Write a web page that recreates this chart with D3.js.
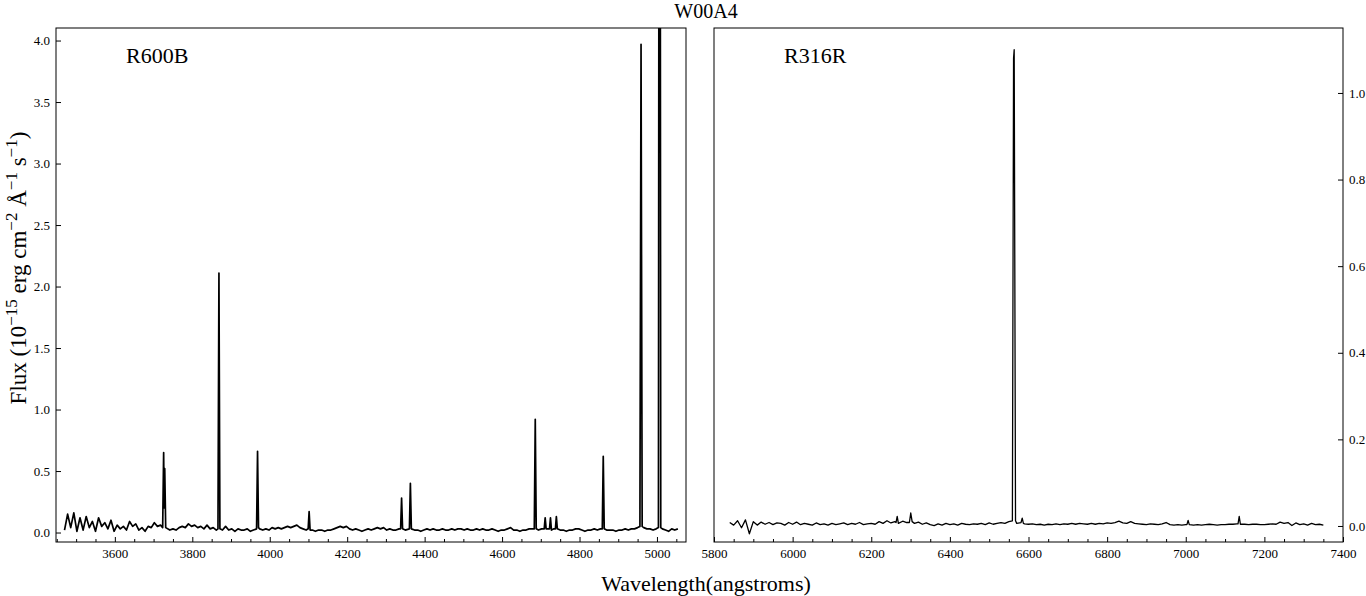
<!DOCTYPE html>
<html>
<head>
<meta charset="utf-8">
<script src="https://cdn.jsdelivr.net/npm/d3@7"></script>
<style>
body { margin: 0; background: #fff; }
svg { display: block; font-family: "Liberation Serif", "Times New Roman", serif; }
.axis text { font-size: 13px; fill: #000; font-family: "Liberation Serif", serif; }
.axis line { stroke: #000; stroke-width: 1; }
.axis .domain { display: none; }
</style>
</head>
<body>
<svg width="1366" height="596"></svg>
<script>
// ---- data ----
var title = "W00A4";
var panelNames = ["R600B", "R316R"];

// blue arm (R600B): continuum sampled every 8 A from 3470 A
var blueStart = 3470, blueStep = 8;
var blueFlux = [
  0.02, 0.15, 0.04, 0.16, 0.01, 0.12, 0.02, 0.13, 0.04, 0.09,
  0.01, 0.12, 0.05, 0.08, 0.03, 0.10, 0.01, 0.06, 0.03, 0.05,
  0.02, 0.09, 0.05, 0.07, 0.02, 0.04, 0.01, 0.05, 0.04, 0.08,
  0.05, 0.06, 0.04, 0.03, 0.02, 0.03, 0.02, 0.04, 0.05, 0.04,
  0.07, 0.05, 0.06, 0.04, 0.05, 0.03, 0.06, 0.03, 0.04, 0.02,
  0.03, 0.02, 0.05, 0.02, 0.03, 0.01, 0.03, 0.02, 0.02, 0.03,
  0.01, 0.02, 0.03, 0.03, 0.02, 0.03, 0.02, 0.04, 0.03, 0.04,
  0.03, 0.04, 0.05, 0.04, 0.05, 0.06, 0.04, 0.03, 0.02, 0.03,
  0.02, 0.01, 0.02, 0.02, 0.01, 0.02, 0.02, 0.03, 0.04, 0.05,
  0.04, 0.05, 0.03, 0.02, 0.03, 0.02, 0.01, 0.02, 0.03, 0.02,
  0.03, 0.04, 0.03, 0.04, 0.02, 0.03, 0.02, 0.02, 0.03, 0.03,
  0.02, 0.03, 0.03, 0.02, 0.02, 0.01, 0.02, 0.03, 0.02, 0.03,
  0.02, 0.02, 0.03, 0.02, 0.02, 0.03, 0.02, 0.03, 0.03, 0.02,
  0.03, 0.02, 0.02, 0.03, 0.02, 0.03, 0.02, 0.02, 0.03, 0.02,
  0.01, 0.02, 0.02, 0.03, 0.04, 0.02, 0.02, 0.01, 0.02, 0.02,
  0.03, 0.03, 0.03, 0.02, 0.03, 0.03, 0.03, 0.02, 0.03, 0.03,
  0.02, 0.02, 0.01, 0.02, 0.02, 0.03, 0.03, 0.02, 0.01, 0.02,
  0.02, 0.03, 0.02, 0.03, 0.03, 0.02, 0.02, 0.02, 0.01, 0.02,
  0.02, 0.03, 0.02, 0.03, 0.03, 0.04, 0.05, 0.04, 0.03, 0.03,
  0.02, 0.03, 0.04, 0.03, 0.02, 0.01, 0.03, 0.02, 0.03
];
// emission lines in the blue arm: [wavelength, flux]
var blueLines = [
  [3723.5, 0.04], [3726.0, 0.65], [3727.4, 0.20], [3728.8, 0.52], [3731.3, 0.04],
  [3866.3, 0.03], [3868.8, 2.11], [3871.3, 0.03],
  [3966.0, 0.03], [3968.5, 0.66], [3971.0, 0.04],
  [4099.2, 0.03], [4101.7, 0.17], [4104.2, 0.02],
  [4338.0, 0.03], [4340.5, 0.28], [4343.0, 0.03],
  [4360.7, 0.03], [4363.2, 0.40], [4365.7, 0.03],
  [4683.2, 0.03], [4685.7, 0.92], [4688.2, 0.03],
  [4708.8, 0.03], [4711.3, 0.12], [4713.8, 0.03],
  [4722.5, 0.03], [4725.0, 0.12], [4727.5, 0.02],
  [4737.7, 0.03], [4740.2, 0.13], [4742.7, 0.03],
  [4858.8, 0.03], [4861.3, 0.62], [4863.8, 0.03],
  [4956.0, 0.05], [4958.9, 3.97], [4961.8, 0.05],
  [5003.8, 0.04], [5006.8, 11.9], [5009.8, 0.04]
];

// red arm (R316R): continuum sampled every 10 A from 5840 A
var redStart = 5840, redStep = 10;
var redFlux = [
  0.008, 0.002, 0.012, -0.004, 0.014, -0.018, 0.010, 0.002, 0.009, 0.004,
  0.008, 0.003, 0.007, 0.006, 0.002, 0.008, 0.004, 0.009, 0.003, 0.006,
  0.004, 0.002, 0.007, 0.003, 0.005, 0.002, 0.006, 0.003, 0.005, 0.007,
  0.003, 0.006, 0.004, 0.008, 0.003, 0.005, 0.006, 0.004, 0.010, 0.006,
  0.012, 0.007, 0.010, 0.005, 0.011, 0.008, 0.010, 0.006, 0.009, 0.004,
  0.007, 0.003, 0.001, 0.005, 0.002, 0.006, 0.003, 0.005, 0.002, 0.006,
  0.004, 0.003, 0.005, 0.004, 0.006, 0.003, 0.007, 0.004, 0.006, 0.008,
  0.006, 0.010, 0.012, 0.006, 0.012, 0.005, 0.004, 0.005, 0.003, 0.004,
  0.002, 0.004, 0.003, 0.005, 0.003, 0.005, 0.004, 0.006, 0.004, 0.006,
  0.005, 0.004, 0.006, 0.004, 0.006, 0.005, 0.007, 0.006, 0.008, 0.011,
  0.007, 0.006, 0.010, 0.006, 0.005, 0.004, 0.003, 0.005, 0.004, 0.003,
  0.005, 0.008, 0.003, 0.002, 0.003, 0.002, 0.003, 0.003, 0.002, 0.003,
  0.002, 0.003, 0.004, 0.003, 0.002, 0.003, 0.003, 0.004, 0.004, 0.005,
  0.004, 0.004, 0.003, 0.004, 0.004, 0.003, 0.003, 0.004, 0.005, 0.004,
  0.009, 0.006, 0.008, 0.001, 0.007, 0.003, 0.005, 0.002, 0.006, 0.003,
  0.004, 0.002
];
var redLines = [
  [6263.0, 0.008], [6266.0, 0.022], [6269.0, 0.006],
  [6297.0, 0.008], [6300.5, 0.030], [6304.0, 0.010],
  [6559.0, 0.012], [6562.0, 1.08], [6563.6, 1.10], [6567.0, 0.012],
  [6581.0, 0.008], [6584.0, 0.018], [6587.0, 0.006],
  [7003.0, 0.003], [7006.0, 0.013], [7009.0, 0.003],
  [7133.0, 0.005], [7136.0, 0.022], [7139.0, 0.004]
];

// tick labels
var blueXTicks = [3600, 3800, 4000, 4200, 4400, 4600, 4800, 5000];
var blueYTicks = [0.0, 0.5, 1.0, 1.5, 2.0, 2.5, 3.0, 3.5, 4.0];
var redXTicks = [5800, 6000, 6200, 6400, 6600, 6800, 7000, 7200, 7400];
var redYTicks = [0.0, 0.2, 0.4, 0.6, 0.8, 1.0];

// continuum + lines into one sorted series
function buildSpectrum(start, step, flux, lines) {
  var cont = flux.map((f, i) => [start + i * step, f])
    .filter(p => !lines.some(l => Math.abs(l[0] - p[0]) < 3));
  return cont.concat(lines).sort((a, b) => a[0] - b[0]);
}

var svg = d3.select("svg");
var plotTop = 28, plotBottom = 542;

var panels = [
  { name: panelNames[0], x0: 56, x1: 686, xDom: [3448, 5075], yDom: [-0.077, 4.102],
    data: buildSpectrum(blueStart, blueStep, blueFlux, blueLines), sw: 1.7,
    xTicks: blueXTicks, yTicks: blueYTicks, ySide: "left", id: "clipB" },
  { name: panelNames[1], x0: 714, x1: 1343, xDom: [5800, 7400], yDom: [-0.037, 1.150],
    data: buildSpectrum(redStart, redStep, redFlux, redLines), sw: 1.3,
    xTicks: redXTicks, yTicks: redYTicks, ySide: "right", id: "clipR" }
];

panels.forEach(p => {
  var x = d3.scaleLinear().domain(p.xDom).range([p.x0, p.x1]);
  var y = d3.scaleLinear().domain(p.yDom).range([plotBottom, plotTop]);
  var g = svg.append("g");

  g.append("clipPath").attr("id", p.id)
    .append("rect")
      .attr("x", p.x0).attr("y", plotTop)
      .attr("width", p.x1 - p.x0).attr("height", plotBottom - plotTop);

  var line = d3.line().x(d => x(d[0])).y(d => y(d[1]));
  g.append("path")
    .datum(p.data)
    .attr("clip-path", "url(#" + p.id + ")")
    .attr("fill", "none")
    .attr("stroke", "#000")
    .attr("stroke-width", p.sw)
    .attr("stroke-linejoin", "round")
    .attr("d", line);

  // minor x ticks every 50 A
  var minor = d3.range(Math.ceil(p.xDom[0] / 50) * 50, p.xDom[1] + 1, 50)
    .filter(v => v % 200 !== 0);
  g.append("g")
    .attr("class", "axis")
    .attr("transform", "translate(0," + plotBottom + ")")
    .call(d3.axisBottom(x).tickValues(minor).tickSize(-3).tickFormat(""));

  g.append("g")
    .attr("class", "axis")
    .attr("transform", "translate(0," + plotBottom + ")")
    .call(d3.axisBottom(x).tickValues(p.xTicks).tickSize(-5).tickPadding(7)
      .tickFormat(d3.format("d")));

  if (p.ySide === "left") {
    g.append("g")
      .attr("class", "axis")
      .attr("transform", "translate(" + p.x0 + ",0)")
      .call(d3.axisLeft(y).tickValues(p.yTicks).tickSize(-5).tickPadding(6)
        .tickFormat(d3.format(".1f")));
  } else {
    g.append("g")
      .attr("class", "axis")
      .attr("transform", "translate(" + p.x1 + ",0)")
      .call(d3.axisRight(y).tickValues(p.yTicks).tickSize(-5).tickPadding(6)
        .tickFormat(d3.format(".1f")));
  }

  // frame
  g.append("rect")
    .attr("x", p.x0).attr("y", plotTop)
    .attr("width", p.x1 - p.x0).attr("height", plotBottom - plotTop)
    .attr("fill", "none").attr("stroke", "#000").attr("stroke-width", 1);

  g.append("text")
    .attr("x", p.x0 + 70).attr("y", 63)
    .attr("font-size", 22)
    .text(p.name);
});

svg.append("text")
  .attr("x", 706).attr("y", 18)
  .attr("text-anchor", "middle")
  .attr("font-size", 20)
  .text(title);

svg.append("text")
  .attr("x", 706).attr("y", 591)
  .attr("text-anchor", "middle")
  .attr("font-size", 22)
  .text("Wavelength(angstroms)");

// y label with superscripts
var yl = svg.append("text")
  .attr("transform", "translate(26,268) rotate(-90)")
  .attr("text-anchor", "middle")
  .attr("font-size", 23);
var parts = [["Flux (10", 0], ["\u221215", 1], [" erg  cm", 0], ["\u22122", 1],
             [" \u00C5", 0], ["\u22121", 1], [" s", 0], ["\u22121", 1], [")", 0]];
var prevSup = 0;
parts.forEach(pt => {
  var dy = (pt[1] - prevSup) * -9;
  yl.append("tspan")
    .attr("dy", dy)
    .attr("font-size", pt[1] ? 17 : 23)
    .text(pt[0]);
  prevSup = pt[1];
});
</script>
</body>
</html>
